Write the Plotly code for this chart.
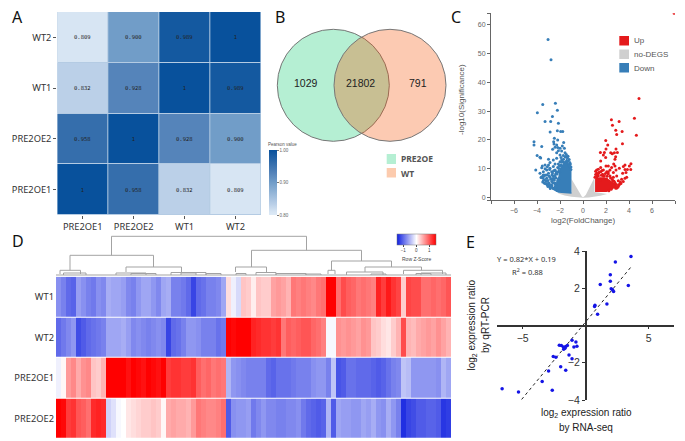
import plotly.graph_objects as go

W, H = 685, 441
SANS = "Noto Sans"
ARIAL = "Liberation Sans"

# A: sample correlation
corr_labels = ["PRE2OE1", "PRE2OE2", "WT1", "WT2"]
corr_z = [
    [1, 0.958, 0.832, 0.809],
    [0.958, 1, 0.928, 0.900],
    [0.832, 0.928, 1, 0.989],
    [0.809, 0.900, 0.989, 1],
]
corr_text = [
    ["1", "0.958", "0.832", "0.809"],
    ["0.958", "1", "0.928", "0.900"],
    ["0.832", "0.928", "1", "0.989"],
    ["0.809", "0.900", "0.989", "1"],
]

# B: venn counts
venn_counts = ["1029", "21802", "791"]
venn_names = ["PRE2OE", "WT"]

# C: volcano
nodeg_x = [-1, -0.7, -0.45, -0.25, -0.1, 0, 0.1, 0.25, 0.45, 0.7, 1, 1, 2.1, 1.5, 1, 0.5, 0, -0.5, -1, -1.6, -2.2, -1]
nodeg_y = [6.5, 4.5, 2.5, 1, 0.4, 0.2, 0.4, 1, 2.5, 4.5, 7, 2, 1.3, 0.7, 0.35, 0.1, 0, 0.1, 0.35, 0.8, 1.5, 2]
down_area_x = [-1.0, -2.15, -2.72, -2.43, -2.15, -2.0, -1.42, -1.0]
down_area_y = [1.4, 1.7, 2.9, 4.4, 7.3, 10.2, 13.7, 9.6]
up_area_x = [1.05, 1.05, 1.48, 1.91, 2.35, 2.78, 2.99, 2.49, 2.06]
up_area_y = [2, 6.7, 7.1, 7.1, 6.1, 4.8, 3.8, 2.9, 2.0]
down_x = [-3.04, -2.78, -3.5, -2.4, -3.97, -2.23, -2.66, -3.3, -2.81, -2.14, -2.86, -2.23, -1.94, -1.76, -4.26, -4.26,
          -3.59, -3.99, -3.68, -4.11, -2.49, -2.2, -2.55, -2.52, -2.29, -1.68, -1.8, -2.43, -2.2, -2.0, -1.62, -2.64,
          -2.14, -1.86, -1.56, -2.29, -2.0, -3.74, -3.0, -2.87, -2.58, -2.29, -1.91, -1.71, -3.54, -3.3, -3.0, -3.59,
          -3.45, -3.74, -3.16, -2.87, -2.58, -2.43, -3.3, -3.0, -2.72, -2.43, -2.2, -3.59, -3.16, -2.87, -2.58, -2.38,
          -3.45, -3.0, -2.72, -2.49, -3.25, -2.87, -2.58, -2.2, -2.14, -1.71, -1.86, -2.0, -1.5, -1.3, -1.2, -1.1,
          -3.35, -3.1, -2.95, -2.75, -2.6, -2.35, -3.5, -3.2, -3.05, -2.8, -2.65, -2.45, -2.3, -2.1,
          -3.65, -3.4, -3.15, -2.95, -2.7, -2.55, -2.35, -3.3, -3.1, -2.9, -2.4,
          -1.05, -1.1, -1.2, -1.15, -1.3, -1.25, -1.45, -1.55, -1.7, -1.8, -1.9, -1.6, -1.35, -1.05, -1.15,
          -2.05, -2.25, -2.15, -2.45, -2.6, -2.7, -2.5, -2.35, -2.25, -2.85, -2.95, -2.75, -3.05, -2.65, -2.55,
          -3.2, -3.35, -3.5, -3.45, -2.05, -2.1, -1.95, -2.3, -2.45, -2.4]
down_y = [54.8, 47.8, 32.3, 32.7, 29.4, 30.3, 28.1, 26.4, 26.4, 25.8, 22.8, 23.2, 22.9, 22.9, 19.4, 18.3,
          17.7, 14.6, 13.8, 9.6, 20.6, 20, 19.4, 18.6, 18.3, 19.1, 17.9, 17.5, 17.4, 17.1, 17.1, 16.8,
          16.3, 16.2, 15.6, 15.6, 14.8, 14, 13.3, 12.2, 13.1, 13.7, 13.9, 14.6, 11, 11.3, 11.3, 10.4,
          9, 8.5, 9.6, 10.2, 10.8, 11.7, 7.9, 8.5, 9, 9.6, 10.5, 7.3, 6.7, 7.1, 7.5, 8.2,
          5.9, 5.2, 5.6, 6.1, 4.8, 3.8, 3.3, 5.9, 11.7, 12.5, 13.1, 12.5, 14.2, 12.8, 11.5, 10.6,
          5.0, 4.4, 4.9, 4.5, 5.2, 4.0, 6.8, 5.9, 6.0, 6.4, 6.6, 5.0, 8.8, 9.2,
          7.0, 7.4, 7.9, 7.5, 7.9, 6.7, 6.9, 10.0, 10.7, 9.8, 3.7,
          10.6, 11.7, 13.2, 12.2, 14.4, 11.1, 15.0, 14.1, 13.3, 12.4, 11.4, 12.0, 13.8, 9.8, 10.9,
          8.8, 8.2, 6.4, 7.6, 6.2, 4.1, 3.2, 2.9, 2.5, 3.2, 4.3, 3.6, 3.9, 8.6, 9.3,
          4.9, 6.2, 5.4, 7.9, 11.1, 10.1, 11.0, 9.0, 5.1, 4.6]
up_x = [7.92, 4.87, 4.47, 4.64, 2.47, 3.14, 2.56, 2.85, 3.4, 2.93, 3.43, 1.98, 2.15, 2.0, 2.87, 2.99, 2.73, 2.41,
        2.55, 1.51, 1.86, 1.77, 1.97, 2.84, 2.78, 1.54, 2.67, 4.17, 4.03, 3.65, 3.51, 3.16, 2.78, 2.49, 2.2, 2.0,
        1.54, 1.33, 1.19, 3.86, 4.15, 3.65, 3.74, 3.45, 2.87, 2.64, 2.35, 2.06, 1.77, 1.54, 1.19, 1.33, 2.64, 2.93,
        2.35, 1.77, 3.8, 3.36, 3.65, 1.04, 3.07, 3.22, 2.78, 2.06, 1.48, 3.3, 3.1, 2.95, 2.6, 3.5, 1.7, 2.2, 1.25, 1.4,
        1.1, 1.2, 1.35, 1.6, 1.85, 2.1, 2.4, 2.55, 2.7, 2.9, 3.05, 3.15, 2.85, 2.45, 2.25, 1.1, 1.65, 1.95, 2.2, 3.25]
up_y = [63.9, 34.4, 27.5, 21.6, 27, 26.4, 25.1, 23.4, 22.9, 21.9, 18.7, 19.8, 18.3, 16.9, 16.9, 15.7, 15.6, 15.6,
        15.2, 15.7, 15.7, 14.8, 13.9, 14.2, 13.3, 12.7, 11.7, 11.8, 11, 11.3, 10.8, 10.2, 11, 10.5, 11, 11,
        10.5, 9.9, 9.6, 9.8, 9.8, 9.8, 8.7, 8.5, 9.6, 8.7, 9.6, 9, 9.6, 9, 8.5, 7.5, 7.1, 7.5,
        7.5, 7.5, 7.1, 6.4, 6.7, 7.1, 5.9, 5, 5.2, 6.4, 6.1, 4.9, 4.2, 3.4, 5.8, 5.6, 8.1, 8.3, 7.9, 8.8,
        8.0, 7.2, 8.4, 7.8, 7.6, 7.4, 6.8, 6.3, 5.7, 4.6, 3.7, 4.5, 3.3, 2.9, 2.4, 9.2, 9.4, 8.4, 9.0, 5.4]
volcano_groups = ["Up", "no-DEGS", "Down"]

# D: expression heatmap, columns left to right
heat_rows = ["WT1", "WT2", "PRE2OE1", "PRE2OE2"]
z_wt1 = [-.75, -.85, -1.0, -1.05, -.65, -.75, -.85, -.9, -.75, -.8,
         -.55, -.6, -.6, -.65, -.8, -.85, -.7, -.6, -.6, -.7, -.8, -.6,
         -.55, -.85, -.85, -.9, -1.0, -1.25, -1.0, -.95, -.85, -.85, -.8, -.6,
         .2, -.1, -.25, .35, .3, .1, .35, .3, .3, .55, .6, .55, .45, .8, .75, .8, .75, .7, .8, .85,
         1.5, 1.5,
         .85, 1.05, .95, .9, .8, .85, .8, .75, 1.3, 1.15, 1.35, 1.2, 1.1,
         .3,
         1.1, 1.05, 1.05, .85, .85, .9, .85, .9, 1.0]
z_wt2 = [-1.0, -.9, -.8, -.7, -1.2, -1.1, -1.0, -.95, -.9, -.85,
         -.6, -.6, -.6, -.55, -.65, -.8, -.75, -.8, -.85, -.8, -.75, -.8,
         -1.25, -1.0, -.95, -.85, -.7, -.7, -.75, -.85, -.85, -.85, -.95, -.9,
         1.5, 1.45, 1.5, 1.5, 1.5, 1.3, 1.25, 1.2, 1.2, 1.15, 1.2, .8, .95, .9, .95, 1.0, 1.0, .9, .85, .75,
         -.05, -.05,
         .65, .6, .65, .6, .55, .65, .6, .35, .3, .2, .15, .3, .45,
         1.05,
         .45, .4, .5, .55, .6, .55, .65, .55, .45]
z_oe1 = [-.1, .05, .6, .7, .5, .65, .7, .35, .3, .45,
         1.5, 1.5, 1.5, 1.5, 1.4, 1.5, 1.45, 1.4, 1.5, 1.45, 1.4, 1.5,
         1.15, 1.2, 1.2, 1.15, 1.15, 1.2, .95, .85, .9, .8, .85, .8,
         -.5, -.7, -.75, -.8, -.85, -.85, -.85, -.85, -1, -1.05, -.95, -.95, -.95, -.9, -.85, -.85, -.85, -.75, -.7, -.7,
         -.85, -.4,
         -1.15, -1.1, -.95, -.95, -1.0, -1.0, -1.0, -1.05, -1.1, -1.05, -.95, -.85, -.8,
         -.4,
         -.45, -.7, -.7, -.7, -.7, -.7, -.75, -.5, -.6]
z_oe2 = [1.5, 1.45, 1.15, 1.2, 1.0, .95, .85, 1.25, 1.3, 1.25,
         -.3, -.2, -.05, .0, .15, .2, .25, .3, .3, .35, .3, .05,
         .5, .55, .5, .5, .45, .6, .8, .75, .7, .7, .75, .85,
         -1.1, -.75, -.7, -.7, -.65, -.9, -.8, -.7, -.8, -.8, -.85, -.85, -.8, -.8, -.75, -.9, -1.0, -1.05, -1.1, -1.05,
         -.5, -1.1,
         -.6, -.65, -.65, -.7, -.7, -.6, -.65, -.55, -.7, -.75, -.55, -.7, -.85,
         -1.4,
         -1.25, -1.2, -1.1, -1.1, -1.05, -1.05, -1.1, -1.35, -1.3]

# dendrogram merges above the heatmap, in column units
dend_left = [11.1, 2.8, .8, 14, 39.1, 35.9, 55.1, 54.4, 61.8, 58.1, 69.5,
             1.5, 12, 15, 23, 25, 30, 36, 40, 44, 50, 72, 73, 63, 0]
dend_right = [50.1, 19.5, 4.9, 25.1, 61.1, 42.1, 67.1, 55.8, 73.1, 65.4, 77.3,
              6, 18, 20, 30, 28, 33, 38, 44, 50, 53, 75, 78, 66, 79]
dend_top = [39.7, 20.7, 5.7, 9, 25.7, 9, 15, 5.7, 9, 4, 5.7,
            3, 3, 2.5, 3.5, 3, 2.5, 2.5, 3.5, 2.5, 2, 2.5, 3, 2, 1]
dend_left_low = [20.7, 5.7, 2, 4, 9, 4, 5.7, 2, 4, 1, 2,
                 1, 1, 1, 1, 1, 1, 1, 1, 1, 1, 1, 1, 1, 1]
dend_right_low = [25.7, 9, 2, 4, 15, 4, 9, 2, 5.7, 1, 2,
                  1, 1, 1, 1, 1, 1, 1, 1, 1, 1, 1, 1, 1, 1]

# E: qRT-PCR vs RNA-seq
rna_seq = [-6.63, -5.33, -2.65, -3.45, -2.94, -1.98, -1.58, -2.57, -2.36, -1.32, -1.08, -.93, -.69, -1.08, -.77,
           -2.09, -1.93, -1.77, -1.74, -1.58, -1.45, -1.64, .95, .74, .71, 1.69, 1.16, 1.96, 1.96, 2.36, 3.6, 3.39,
           2.03, 2.14, 2.22]
qrt_pcr = [-3.4, -3.57, -3.48, -3.0, -2.44, -2.22, -2.4, -1.67, -1.7, -1.58, -1.79, -1.15, -1.11, -.79, -.88,
           -1.06, -1.08, -1.15, -1.27, -1.13, -1.08, -1.22, .61, 1.09, 1.02, 1.15, 2.2, 2.37, 2.72, 3.41, 3.7, 2.15,
           1.97, 1.92, 1.83]
fit_x = [-5.08, 3.6]
fit_y = [-3.97, 3.14]


def dom_x(left, right):
    return [left / W, right / W]


def dom_y(top, bottom):
    return [1 - bottom / H, 1 - top / H]


def px(x):
    return x / W


def py(y):
    return 1 - y / H


def label(x, y, text, size=10, font=SANS, color="#222", angle=0, anchor="center"):
    fig.add_annotation(xref="paper", yref="paper", x=px(x), y=py(y), text=text, showarrow=False,
                       xanchor=anchor, yanchor="middle", textangle=angle,
                       font=dict(size=size, family=font, color=color))


def legend_box(left, top, right, bottom, colour):
    fig.add_shape(type="rect", xref="paper", yref="paper", x0=px(left), x1=px(right), y0=py(top), y1=py(bottom),
                  fillcolor=colour, line_width=0)


fig = go.Figure()

fig.add_trace(go.Heatmap(
    x=corr_labels, y=corr_labels, z=corr_z, text=corr_text, texttemplate="%{text}",
    textfont=dict(size=5.5, family="DejaVu Sans Mono", color="#222"),
    zmin=0.8, zmax=1, xgap=1, ygap=1, hoverinfo="skip",
    colorscale=[[0, "#dce9f6"], [0.045, "#d7e5f3"], [0.16, "#bbd0e8"], [0.5, "#719dc8"], [0.64, "#5584ba"],
                [0.79, "#356eac"], [1, "#08519c"]],
    colorbar=dict(x=px(269), xanchor="left", y=py(215), yanchor="bottom", len=65, lenmode="pixels",
                  thickness=8, thicknessmode="pixels", xpad=0, ypad=0, outlinewidth=0,
                  tickvals=[0.8, 0.9, 1], ticktext=["0.80", "0.90", "1.00"], ticks="outside", ticklen=2,
                  tickcolor="#777", tickfont=dict(size=4.5, color="#666", family=ARIAL)),
    xaxis="x", yaxis="y"))
# pale lines between the correlation cells show through the cell gaps
fig.add_shape(type="rect", xref="paper", yref="paper", x0=px(57.3), x1=px(261), y0=py(215), y1=py(12),
              fillcolor="#b4cbe3", line_width=0, layer="below")

fig.add_trace(go.Scatter(x=nodeg_x, y=nodeg_y, mode="lines", fill="toself", fillcolor="#cfcfcf", line_width=0,
                         hoverinfo="skip", xaxis="x2", yaxis="y2"))
fig.add_trace(go.Scatter(x=down_area_x, y=down_area_y, mode="lines", fill="toself", fillcolor="#377eb8", line_width=0,
                         hoverinfo="skip", xaxis="x2", yaxis="y2"))
fig.add_trace(go.Scatter(x=up_area_x, y=up_area_y, mode="lines", fill="toself", fillcolor="#e41a1c", line_width=0,
                         hoverinfo="skip", xaxis="x2", yaxis="y2"))
fig.add_trace(go.Scatter(x=down_x, y=down_y, mode="markers", marker=dict(size=3, color="#377eb8"),
                         xaxis="x2", yaxis="y2"))
fig.add_trace(go.Scatter(x=up_x, y=up_y, mode="markers", marker=dict(size=3, color="#e41a1c"),
                         xaxis="x2", yaxis="y2"))

fig.add_trace(go.Heatmap(
    z=[z_wt1, z_wt2, z_oe1, z_oe2], y=heat_rows, zmin=-1.5, zmax=1.5, ygap=1, hoverinfo="skip",
    colorscale=[[0, "#1020e0"], [0.5, "#ffffff"], [1, "#ff0000"]],
    colorbar=dict(orientation="h", x=px(396.7), xanchor="left", y=py(234.3), yanchor="top", len=39, lenmode="pixels",
                  thickness=11, thicknessmode="pixels", xpad=0, ypad=0, outlinewidth=0.5, outlinecolor="#777",
                  tickvals=[-1, 0, 1], ticks="outside", ticklen=2,
                  tickfont=dict(size=4.5, color="#444", family=ARIAL)),
    xaxis="x3", yaxis="y3"))

dend_xs, dend_ys = [], []
for left, right, top, left_low, right_low in zip(dend_left, dend_right, dend_top, dend_left_low, dend_right_low):
    dend_xs += [left, left, right, right, None]
    dend_ys += [left_low, top, top, right_low, None]
fig.add_trace(go.Scatter(x=dend_xs, y=dend_ys, mode="lines", line=dict(color="#a3a3a3", width=1),
                         hoverinfo="skip", xaxis="x4", yaxis="y4"))

fig.add_trace(go.Scatter(x=fit_x, y=fit_y, mode="lines", line=dict(color="#222", width=1, dash="dot"),
                         hoverinfo="skip", xaxis="x5", yaxis="y5"))
fig.add_trace(go.Scatter(x=rna_seq, y=qrt_pcr, mode="markers", marker=dict(size=3.5, color="#1414e6"),
                         xaxis="x5", yaxis="y5"))

# venn circles drawn in page pixels, the right one tints the overlap
venn_y, venn_r = 85.3, 56
for cx, fill in [(333.3, "#b5efd3"), (390, "rgba(245,81,0,0.3)")]:
    fig.add_shape(type="circle", xref="paper", yref="paper", x0=px(cx - venn_r), x1=px(cx + venn_r),
                  y0=py(venn_y + venn_r), y1=py(venn_y - venn_r), fillcolor=fill, line=dict(color="#777", width=1))
for x, text in zip([306, 361, 417.5], venn_counts):
    label(x, 83, text, size=10.5, font=ARIAL, color="#222")
legend_box(386.7, 154, 396, 164, "#b5efd3")
legend_box(386.7, 168, 396, 177.5, "#fccbae")
label(399, 159, "<b>%s</b>" % venn_names[0], size=8.5, color="#555", anchor="left")
label(399, 173, "<b>%s</b>" % venn_names[1], size=8.5, color="#555", anchor="left")

label(282.5, 144.5, "Pearson value", size=4.5, font=ARIAL, color="#555")
label(416, 259, "Row Z-Score", size=5, font=ARIAL, color="#444")

for top, colour, name in zip([36, 49.5, 63], ["#e41a1c", "#cfcfcf", "#377eb8"], volcano_groups):
    legend_box(619.3, top, 629, top + 9.5, colour)
    label(632, top + 5, name, size=8, font=ARIAL, color="#555", anchor="left")
label(583, 221, "log2(FoldChange)", size=8, font=ARIAL, color="#555")
label(462, 100, "-log10(Significance)", size=8, font=ARIAL, color="#555", angle=-90)

label(526.7, 259.3, "Y = 0.82*X + 0.19", size=7.5, color="#333")
label(527, 271.7, "R<sup>2</sup> = 0.88", size=7.5, color="#333")
label(586, 413, "log<sub>2</sub> expression ratio", size=10, font=ARIAL)
label(586, 427, "by RNA-seq", size=10, font=ARIAL)
label(471.5, 325, "log<sub>2</sub> expression ratio", size=10, font=ARIAL, angle=-90)
label(485, 325, "by qRT-PCR", size=10, font=ARIAL, angle=-90)

for x, y, letter in [(17.5, 17.5, "A"), (280, 17.5, "B"), (456, 17.5, "C"), (17.5, 241, "D"), (470, 241.5, "E")]:
    label(x, y, letter, size=16, color="#111")

label_font = dict(size=9.3, family=SANS, color="#333")
grey_font = dict(size=7, family=ARIAL, color="#666")
fig.update_layout(
    width=W, height=H, autosize=False, margin=dict(l=0, r=0, t=0, b=0, autoexpand=False),
    paper_bgcolor="white", plot_bgcolor="white", showlegend=False,
    xaxis=dict(domain=dom_x(57.3, 261), tickfont=label_font, ticks="outside", ticklen=3, tickcolor="#555",
               showgrid=False, zeroline=False, anchor="y"),
    yaxis=dict(domain=dom_y(12, 215), tickfont=label_font, ticks="outside", ticklen=3, tickcolor="#555",
               showgrid=False, zeroline=False, anchor="x"),
    xaxis2=dict(domain=dom_x(491, 675), range=[-8, 8], tickvals=list(range(-6, 7, 2)),
                minor=dict(tickvals=[-8, 8], ticks="outside", ticklen=3, tickcolor="#666"),
                tickfont=grey_font, ticks="outside",
                ticklen=3, tickcolor="#666", showline=True, linecolor="#666", linewidth=1, showgrid=False,
                zeroline=False, anchor="y2"),
    yaxis2=dict(domain=dom_y(13.3, 200.3), range=[-0.9, 63.9], tickvals=[0, 10, 20, 30, 40, 50, 60],
                minor=dict(tickvals=[-0.9, 63.9], ticks="outside", ticklen=3, tickcolor="#666"),
                tickfont=grey_font, ticks="outside",
                ticklen=3, tickcolor="#666", showline=True, linecolor="#666", linewidth=1, showgrid=False,
                zeroline=False, anchor="x2"),
    xaxis3=dict(domain=dom_x(56, 451), range=[-0.5, 78.5], visible=False, anchor="y3"),
    yaxis3=dict(domain=dom_y(276.7, 439), autorange="reversed", tickfont=label_font, ticks="", showgrid=False,
                zeroline=False, anchor="x3", ticklabelstandoff=1),
    xaxis4=dict(domain=dom_x(56, 451), range=[0, 79], visible=False, anchor="y4"),
    yaxis4=dict(domain=dom_y(232, 276), range=[0, 44], visible=False, anchor="x4"),
    xaxis5=dict(domain=dom_x(496.7, 674.3), range=[-7.06, 7.04], tickvals=[-5, 5],
                tickfont=dict(size=10.5, family=ARIAL, color="#333"), ticks="outside", ticklen=3, tickcolor="#333",
                showline=True, linecolor="#333", linewidth=1.5, showgrid=False, zeroline=False,
                anchor="free", position=py(325.5)),
    yaxis5=dict(domain=dom_y(251, 400), range=[-4, 4], tickvals=[-4, -2, 2, 4],
                tickfont=dict(size=10.5, family=ARIAL, color="#333"), ticks="outside", ticklen=3, tickcolor="#333",
                showline=True, linecolor="#333", linewidth=1.5, showgrid=False, zeroline=False,
                anchor="free", position=px(585.7)),
)

fig.write_html("out.html", config=dict(displayModeBar=False), post_script="document.body.style.margin='0';")
